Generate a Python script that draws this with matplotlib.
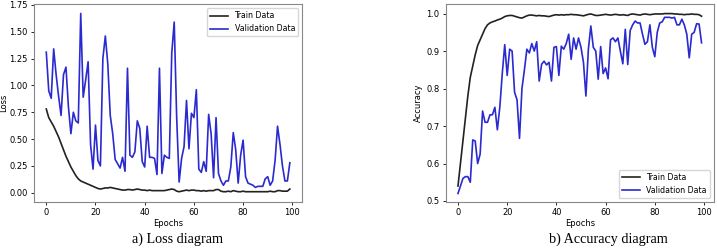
import numpy as np
import matplotlib
matplotlib.use("Agg")
import matplotlib.pyplot as plt

epochs = np.arange(100)

train_loss = [0.78, 0.70, 0.66, 0.62, 0.57, 0.52, 0.46, 0.40, 0.34, 0.29,
              0.24, 0.20, 0.16, 0.13, 0.11, 0.10, 0.09, 0.08, 0.07, 0.06,
              0.05, 0.04, 0.035, 0.04, 0.045, 0.045, 0.05, 0.045, 0.04, 0.035,
              0.03, 0.025, 0.025, 0.03, 0.03, 0.025, 0.03, 0.035, 0.03, 0.025,
              0.025, 0.02, 0.025, 0.02, 0.02, 0.02, 0.02, 0.02, 0.02, 0.025,
              0.03, 0.035, 0.03, 0.015, 0.01, 0.015, 0.02, 0.025, 0.02, 0.025,
              0.025, 0.02, 0.02, 0.015, 0.02, 0.015, 0.02, 0.02, 0.02, 0.03,
              0.03, 0.015, 0.01, 0.01, 0.015, 0.01, 0.02, 0.015, 0.01, 0.01,
              0.015, 0.01, 0.01, 0.01, 0.01, 0.01, 0.01, 0.01, 0.01, 0.01,
              0.01, 0.015, 0.01, 0.01, 0.02, 0.02, 0.015, 0.015, 0.015, 0.035]

val_loss = [1.31, 0.95, 0.88, 1.34, 1.10, 0.90, 0.72, 1.10, 1.17, 0.80,
            0.55, 0.75, 0.67, 0.65, 1.67, 0.89, 1.05, 1.22, 0.45, 0.22,
            0.63, 0.30, 0.25, 1.25, 1.46, 1.20, 0.72, 0.55, 0.31, 0.27,
            0.23, 0.33, 0.20, 1.16, 0.35, 0.33, 0.38, 0.67, 0.60, 0.29,
            0.24, 0.62, 0.33, 0.33, 0.32, 0.17, 1.16, 0.18, 0.35, 0.33,
            0.32, 1.30, 1.59, 0.70, 0.10, 0.32, 0.43, 0.86, 0.41, 0.74,
            0.70, 0.96, 0.22, 0.19, 0.29, 0.20, 0.73, 0.55, 0.14, 0.70,
            0.18, 0.11, 0.07, 0.11, 0.11, 0.24, 0.56, 0.40, 0.09, 0.35,
            0.49, 0.15, 0.09, 0.08, 0.07, 0.05, 0.06, 0.06, 0.06, 0.13,
            0.15, 0.07, 0.11, 0.30, 0.62, 0.45, 0.25, 0.11, 0.11, 0.28]

train_acc = [0.54, 0.60, 0.66, 0.72, 0.78, 0.83, 0.86, 0.89, 0.915, 0.93,
             0.945, 0.96, 0.97, 0.975, 0.978, 0.98, 0.983, 0.985, 0.988, 0.992,
             0.994, 0.995, 0.995, 0.993, 0.991, 0.989, 0.988, 0.991, 0.994, 0.996,
             0.996, 0.995, 0.994, 0.995, 0.994, 0.994, 0.993, 0.992, 0.994, 0.996,
             0.997, 0.996, 0.997, 0.996, 0.997, 0.997, 0.998, 0.997, 0.997, 0.996,
             0.995, 0.994, 0.996, 0.998, 0.999, 0.997, 0.995, 0.995, 0.996, 0.997,
             0.998, 0.997, 0.996, 0.997, 0.998, 0.997, 0.996, 0.997, 0.996, 0.995,
             0.998, 0.999, 0.998, 0.997, 0.996, 0.998, 0.999, 0.998, 0.997, 0.998,
             0.999, 0.999, 0.999, 0.999, 1.0, 1.0, 1.0, 1.0, 0.999, 0.999,
             0.998, 0.998, 0.997, 0.998, 0.998, 0.999, 0.998, 0.998, 0.997, 0.993]

val_acc = [0.52, 0.54, 0.56, 0.565, 0.565, 0.55, 0.663, 0.66, 0.60, 0.625,
           0.74, 0.71, 0.71, 0.73, 0.73, 0.75, 0.69, 0.75, 0.84, 0.917,
           0.835, 0.905, 0.90, 0.79, 0.77, 0.667, 0.80, 0.85, 0.905, 0.895,
           0.92, 0.90, 0.925, 0.82, 0.865, 0.873, 0.863, 0.87, 0.82, 0.91,
           0.912, 0.835, 0.913, 0.905, 0.92, 0.945, 0.878, 0.935, 0.905, 0.935,
           0.91, 0.87, 0.78, 0.905, 0.967, 0.91, 0.90, 0.825, 0.912, 0.84,
           0.855, 0.826, 0.93, 0.935, 0.925, 0.935, 0.90, 0.866, 0.958, 0.864,
           0.955, 0.97, 0.98, 0.975, 0.975, 0.945, 0.918, 0.925, 0.97, 0.91,
           0.885, 0.95, 0.975, 0.978, 0.99, 0.99, 0.99, 0.988, 0.99, 0.97,
           0.97, 0.985, 0.97, 0.945, 0.882, 0.945, 0.95, 0.973, 0.972, 0.922]

train_color = '#222222'
val_color = '#2a2ad0'

fig = plt.figure(figsize=(7.17, 2.48), dpi=100)
ax1 = fig.add_axes([0.0474, 0.185, 0.374, 0.798])
ax2 = fig.add_axes([0.6216, 0.185, 0.374, 0.798])

ax1.plot(epochs, train_loss, color=train_color, lw=1.2, label='Train Data')
ax1.plot(epochs, val_loss, color=val_color, lw=1.2, label='Validation Data')
ax1.set_yticks([0.0, 0.25, 0.5, 0.75, 1.0, 1.25, 1.5, 1.75])
ax1.set_ylim(-0.087, 1.756)
ax1.set_ylabel('Loss', fontsize=6.0, labelpad=1)
ax1.legend(loc='upper right', fontsize=5.7, handlelength=2.3)

ax2.plot(epochs, train_acc, color=train_color, lw=1.2, label='Train Data')
ax2.plot(epochs, val_acc, color=val_color, lw=1.2, label='Validation Data')
ax2.set_yticks([0.5, 0.6, 0.7, 0.8, 0.9, 1.0])
ax2.set_ylim(0.497, 1.025)
ax2.set_ylabel('Accuracy', fontsize=6.0, labelpad=2)
ax2.legend(loc='lower right', fontsize=5.7, handlelength=2.3)

for ax in (ax1, ax2):
    ax.set_xticks([0, 20, 40, 60, 80, 100])
    ax.set_xlim(-5.0, 104.0)
    ax.set_xlabel('Epochs', fontsize=6.0, labelpad=1)
    ax.tick_params(labelsize=6.0, length=2.5, width=0.6, pad=2)
    for s in ax.spines.values():
        s.set_color('#888888')
        s.set_linewidth(0.8)

fig.text(0.248, 0.021, 'a) Loss diagram', family='Liberation Serif', fontsize=10.2, ha='center')
fig.text(0.848, 0.021, 'b) Accuracy diagram', family='Liberation Serif', fontsize=10.2, ha='center')

fig.savefig('out.png', dpi=100)
